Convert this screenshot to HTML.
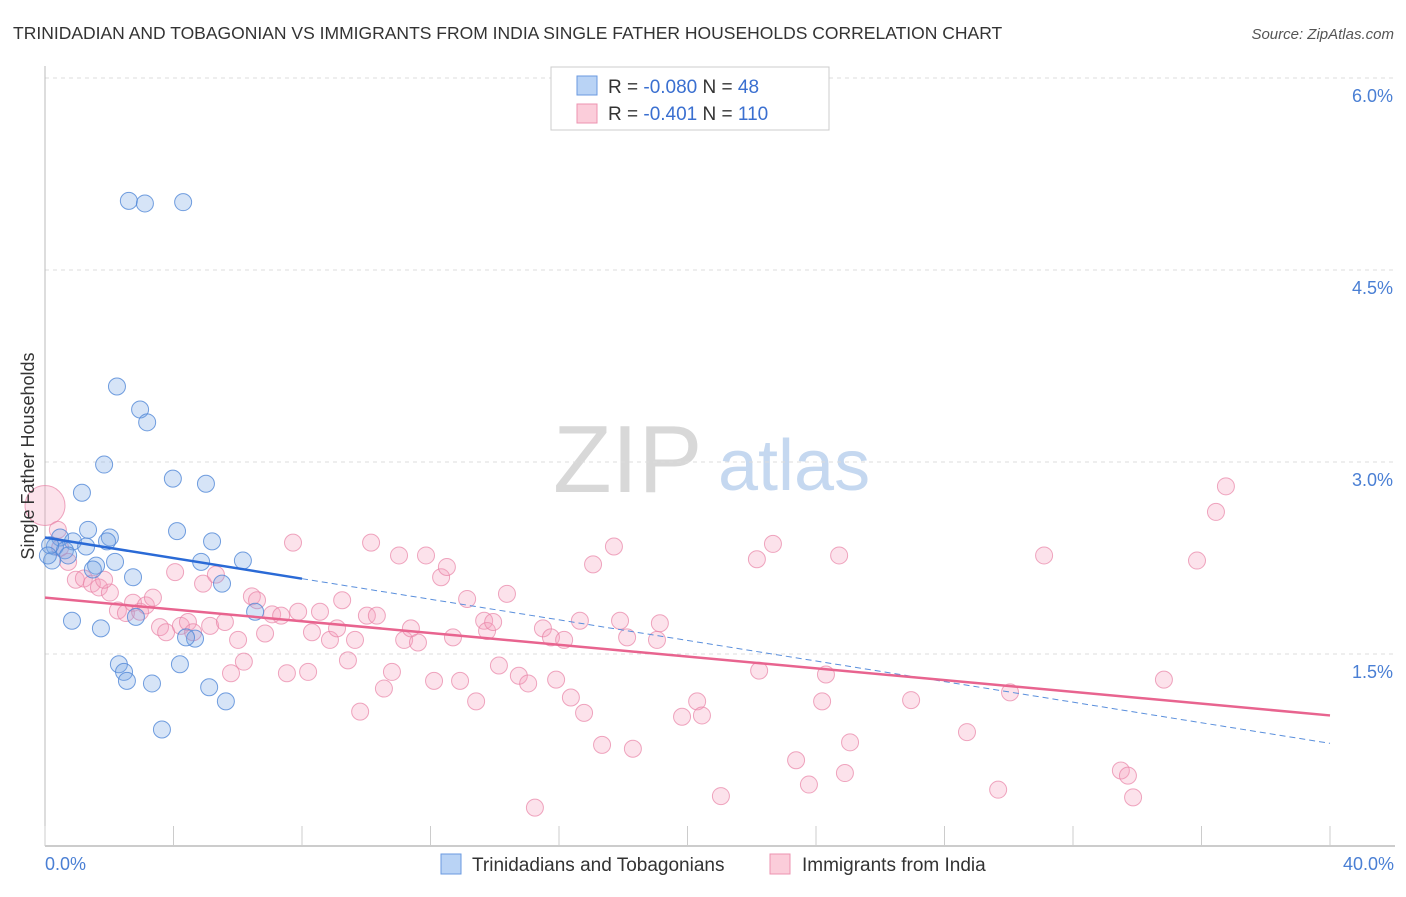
<!DOCTYPE html>
<html><head><meta charset="utf-8">
<style>
body{margin:0;background:#fff;font-family:"Liberation Sans",sans-serif;}
svg text{font-family:"Liberation Sans",sans-serif;}
</style></head>
<body>
<svg id="chart" width="1406" height="892" viewBox="0 0 1406 892" xmlns="http://www.w3.org/2000/svg">
<text x="13" y="39" font-size="17.5" fill="#333">TRINIDADIAN AND TOBAGONIAN VS IMMIGRANTS FROM INDIA SINGLE FATHER HOUSEHOLDS CORRELATION CHART</text>
<text x="1394" y="39" font-size="15" fill="#555" text-anchor="end" font-style="italic">Source: ZipAtlas.com</text>
<g>
<text x="553" y="492" font-size="96" fill="#d8d8d8" font-family="Liberation Serif, serif">ZIP</text>
<text x="718" y="490" font-size="72" fill="#c5d8f0">atlas</text>
</g>
<g id="grid"></g>
<g id="axes"></g>
<g id="pts"></g>
<g id="trend"></g>
<text transform="translate(34,456) rotate(-90)" font-size="18" fill="#333" text-anchor="middle">Single Father Households</text>
<g>
<rect x="551" y="67" width="278" height="63" fill="#fff" stroke="#ccc"/>
<rect x="577" y="76" width="20" height="19" fill="#b9d3f5" stroke="#6a9ae0"/>
<rect x="577" y="104" width="20" height="19" fill="#fbcdda" stroke="#ec93b0"/>
<text x="608" y="93" font-size="19" fill="#333">R = <tspan fill="#3a6fd0">-0.080</tspan>   N = <tspan fill="#3a6fd0"> 48</tspan></text>
<text x="608" y="120" font-size="19" fill="#333">R =  <tspan fill="#3a6fd0">-0.401</tspan>   N = <tspan fill="#3a6fd0">110</tspan></text>
</g>
<g>
<rect x="441" y="854" width="20" height="20" fill="#b9d3f5" stroke="#6a9ae0"/>
<text x="472" y="871" font-size="19" fill="#333">Trinidadians and Tobagonians</text>
<rect x="770" y="854" width="20" height="20" fill="#fbcdda" stroke="#ec93b0"/>
<text x="802" y="871" font-size="19" fill="#333">Immigrants from India</text>
</g>
</svg>
<script>
const yTicks=[1.5,3.0,4.5,6.0];
const yTickLabels=["1.5%","3.0%","4.5%","6.0%"];
const xTicks=[0,4,8,12,16,20,24,28,32,36,40];
const xEndLabels=["0.0%","40.0%"];
const blueX=[2.61,3.11,4.30,2.24,2.96,3.18,1.84,1.15,3.98,5.01,4.11,5.20,1.34,2.02,1.93,0.47,0.87,1.28,0.31,0.22,0.62,0.72,1.59,1.49,2.74,2.18,4.86,6.16,5.51,6.54,0.84,1.74,2.83,4.67,4.39,2.30,2.46,2.55,3.33,4.20,5.11,5.63,3.64,0.16,0.09];
const blueY=[5.04,5.02,5.03,3.59,3.41,3.31,2.98,2.76,2.87,2.83,2.46,2.38,2.47,2.41,2.38,2.41,2.38,2.34,2.34,2.23,2.31,2.27,2.19,2.16,2.10,2.22,2.22,2.23,2.05,1.83,1.76,1.70,1.79,1.62,1.63,1.42,1.36,1.29,1.27,1.42,1.24,1.13,0.91,2.35,2.27];
const pinkX=[0.00,0.40,0.47,0.72,0.96,1.21,1.46,1.68,2.02,1.84,2.27,2.52,2.74,2.96,3.14,3.36,3.58,3.77,4.05,4.23,4.45,4.61,4.92,5.14,5.32,5.60,6.01,6.19,5.79,6.44,6.60,6.85,7.07,7.35,7.53,7.72,7.88,8.19,8.31,8.56,8.87,9.09,9.25,9.43,9.65,9.81,10.02,10.15,10.33,10.55,10.80,11.02,11.18,11.39,11.61,11.86,12.11,12.33,12.51,12.70,12.92,13.14,13.42,13.67,13.76,13.95,14.13,14.38,14.75,15.04,15.25,15.50,15.75,15.91,16.16,16.37,16.65,16.78,17.06,17.34,17.71,17.90,18.12,18.30,19.05,19.14,19.83,20.30,20.45,21.04,22.16,22.23,22.66,23.38,23.78,24.19,24.31,24.72,24.90,25.06,26.96,28.70,29.67,30.04,31.10,33.49,33.71,33.87,34.83,35.86,36.45,36.76];
const pinkY=[2.66,2.47,2.33,2.22,2.08,2.09,2.05,2.02,1.98,2.08,1.84,1.82,1.90,1.83,1.88,1.94,1.71,1.67,2.14,1.72,1.75,1.67,2.05,1.72,2.12,1.75,1.61,1.44,1.35,1.95,1.92,1.66,1.81,1.80,1.35,2.37,1.83,1.36,1.67,1.83,1.61,1.70,1.92,1.45,1.61,1.05,1.80,2.37,1.80,1.23,1.36,2.27,1.61,1.70,1.59,2.27,1.29,2.10,2.18,1.63,1.29,1.93,1.13,1.76,1.68,1.75,1.41,1.97,1.33,1.27,0.30,1.70,1.63,1.30,1.61,1.16,1.76,1.04,2.20,0.79,2.34,1.76,1.63,0.76,1.61,1.74,1.01,1.13,1.02,0.39,2.24,1.37,2.36,0.67,0.48,1.13,1.34,2.27,0.57,0.81,1.14,0.89,0.44,1.20,2.27,0.59,0.55,0.38,1.30,2.23,2.61,2.81];
const blueTrend=[2.41,-0.0402];
const pinkTrend=[1.94,-0.0230];
const blueSolidEnd=8;
const NS="http://www.w3.org/2000/svg";
const X0=45,X1=1330,Y0=846;
function xs(v){return X0+v*(X1-X0)/40;}
function ys(v){return Y0-v*128;}
function mk(tag,attrs,parent){const e=document.createElementNS(NS,tag);for(const k in attrs)e.setAttribute(k,attrs[k]);parent.appendChild(e);return e;}
const grid=document.getElementById('grid'),axes=document.getElementById('axes'),pts=document.getElementById('pts'),trend=document.getElementById('trend');
yTicks.forEach((t,i)=>{
 const l=mk('line',{x1:45,x2:1395,y1:ys(t),y2:ys(t),stroke:'#ddd','stroke-dasharray':'4,4'},grid);
 
 
 const tx=mk('text',{x:1393,y:ys(t)+24,'font-size':18,fill:'#4a7fd4','text-anchor':'end'},axes);
 tx.textContent=yTickLabels[i];
 
 
});
const yl=mk('line',{x1:45,x2:45,y1:66,y2:846,stroke:'#bbb'},axes);


const xl=mk('line',{x1:45,x2:1395,y1:846,y2:846,stroke:'#bbb','stroke-width':1.5},axes);


xTicks.forEach(t=>{
 const l=mk('line',{x1:xs(t),x2:xs(t),y1:826,y2:846,stroke:'#ccc'},axes);
 
 
});
const xa=mk('text',{x:45,y:870,'font-size':18,fill:'#4a7fd4'},axes);xa.textContent=xEndLabels[0];


const xb=mk('text',{x:1394,y:870,'font-size':18,fill:'#4a7fd4','text-anchor':'end'},axes);xb.textContent=xEndLabels[1];


pinkX.forEach((x,i)=>{
 const c=mk('circle',{cx:xs(x),cy:ys(pinkY[i]),r:i===0?20:8.5,fill:'rgba(244,160,188,0.3)',stroke:'rgba(232,130,165,0.7)','stroke-width':1},pts);
 
 
});
blueX.forEach((x,i)=>{
 const c=mk('circle',{cx:xs(x),cy:ys(blueY[i]),r:8.5,fill:'rgba(120,165,230,0.3)',stroke:'rgba(80,135,215,0.8)','stroke-width':1},pts);
 
 
});
function ty(tr,x){return tr[0]+tr[1]*x;}
const bs=mk('line',{x1:xs(0),y1:ys(ty(blueTrend,0)),x2:xs(blueSolidEnd),y2:ys(ty(blueTrend,blueSolidEnd)),stroke:'#2a6ad6','stroke-width':2.5},trend);


const bd=mk('line',{x1:xs(blueSolidEnd),y1:ys(ty(blueTrend,blueSolidEnd)),x2:xs(40),y2:ys(ty(blueTrend,40)),stroke:'#5a8fdc','stroke-width':1,'stroke-dasharray':'6,4'},trend);


const pl=mk('line',{x1:xs(0),y1:ys(ty(pinkTrend,0)),x2:xs(40),y2:ys(ty(pinkTrend,40)),stroke:'#e8648f','stroke-width':2.5},trend);


</script>
</body></html>
